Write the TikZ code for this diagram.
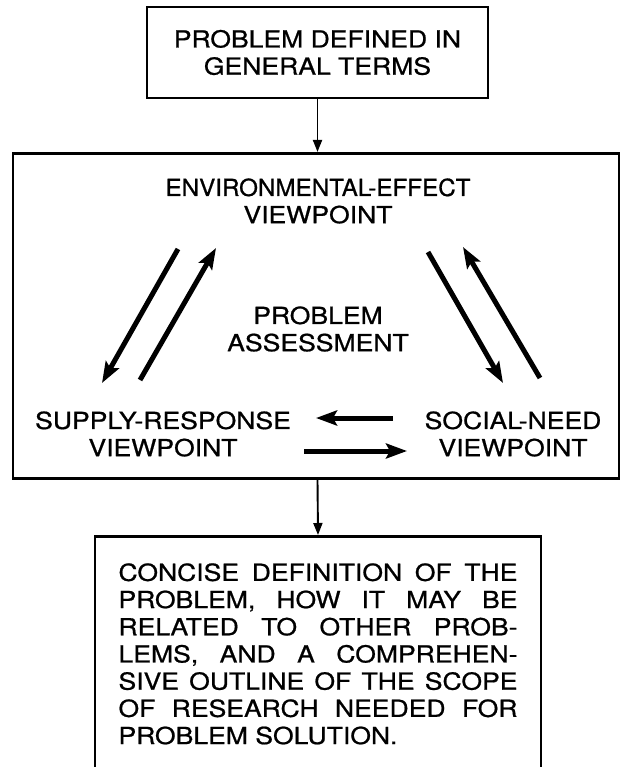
\documentclass[tikz,border=0pt]{standalone}
\usepackage{fontspec}
\setmainfont{TeX Gyre Heros}[FakeStretch=1.13,FakeBold=0.8]
\newfontfamily\envfont{TeX Gyre Heros}[FakeStretch=1.03,FakeBold=0.8]
\usetikzlibrary{arrows.meta}

\newcommand\fs{\fontsize{23.5}{27.2}\selectfont}

\begin{document}
\begin{tikzpicture}[
			x=1pt,y=-1pt,
			block/.style={draw,rectangle,line width=2.6pt,inner sep=0pt,align=center,font=\fs},
			viewpt/.style={draw=none,align=center,font=\fs},
			feed/.style={line width=1.9pt,-{Triangle[length=12pt,width=9pt]}},
			flow/.style={line width=5pt,-{Stealth[length=21pt,width=15pt,inset=4pt]}}
		]
		\useasboundingbox (0,0) rectangle (621,767);

		\node [block,minimum width=341pt,minimum height=91pt] (general) at (317.5,52.5) {PROBLEM DEFINED IN\\GENERAL TERMS};
		\node [block,minimum width=606pt,minimum height=325.5pt] (assessbox) at (316,316) {};

		\node [viewpt] (env) at (318,201) {{\envfont ENVIRONMENTAL-EFFECT}\\VIEWPOINT};
		\node [viewpt] (assess) at (318,329) {PROBLEM\\ASSESSMENT};
		\node [viewpt] (supply) at (163,434) {SUPPLY-RESPONSE\\VIEWPOINT};
		\node [viewpt] (social) at (513,434) {SOCIAL-NEED\\VIEWPOINT};

		% box runs on past the bottom edge
		\node [block,anchor=north,text width=399pt,inner xsep=23.5pt,inner ysep=27pt,align=justify] (concise) at (318,535)
			{\sloppy\parindent=0pt CONCISE DEFINITION OF THE\linebreak
			PROBLEM, HOW IT MAY BE\linebreak
			RELATED TO OTHER PROB-\linebreak
			LEMS, AND A COMPREHEN-\linebreak
			SIVE OUTLINE OF THE SCOPE\linebreak
			OF RESEARCH NEEDED FOR\linebreak
			PROBLEM SOLUTION.\par\vspace{30pt}};

		% arrow ends between the viewpoints
		\coordinate (a1s) at (178,249);
		\coordinate (a1e) at (102,383);
		\coordinate (a2s) at (140,380);
		\coordinate (a2e) at (216,248);
		\coordinate (a3s) at (428,252);
		\coordinate (a3e) at (503,383);
		\coordinate (a4s) at (540,378);
		\coordinate (a4e) at (463,247);
		\coordinate (h1s) at (393,418);
		\coordinate (h1e) at (316,418);
		\coordinate (h2s) at (304,451);
		\coordinate (h2e) at (407,451);

		\draw[feed] (general.south)--(general.south |- assessbox.north);
		\draw[feed] (general.south |- assessbox.south)--(concise.north);
		\draw[flow] (a1s)--(a1e);
		\draw[flow] (a2s)--(a2e);
		\draw[flow] (a3s)--(a3e);
		\draw[flow] (a4s)--(a4e);
		\draw[flow] (h1s)--(h1e);
		\draw[flow] (h2s)--(h2e);
	\end{tikzpicture}
\end{document}
